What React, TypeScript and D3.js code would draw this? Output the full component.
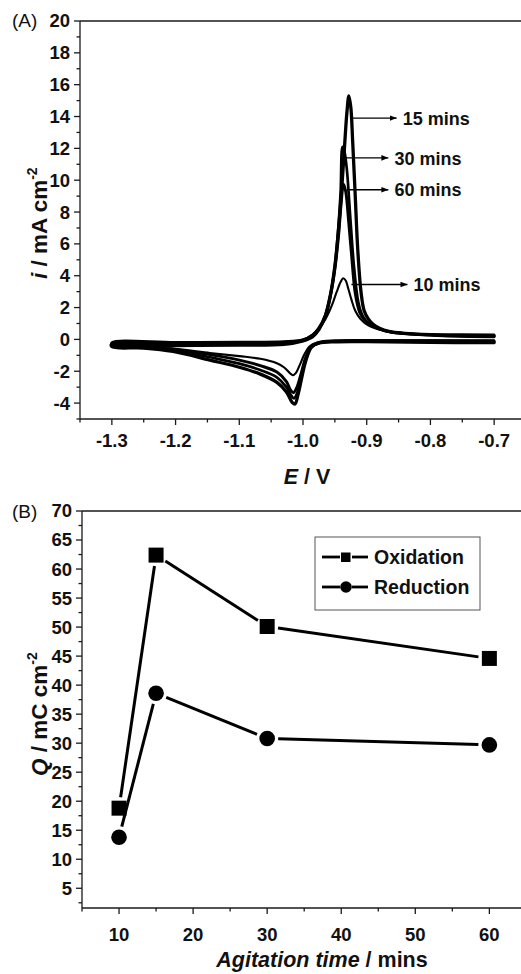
import React from 'react';
import * as d3 from 'd3';

type P = [number, number];

// ---------- Panel A data (E / V, i / mA cm-2), scan order ----------
const cvCurveNames = ['15 mins', '30 mins', '60 mins', '10 mins'];
const cv15: P[] = [
  [-0.70, -0.12], [-0.80, -0.1], [-0.90, -0.08], [-0.95, -0.1], [-0.975, -0.2], [-0.987, -0.5], [-0.996, -1.4],
  [-1.003, -2.6], [-1.008, -3.5], [-1.0125, -4.06], [-1.017, -3.95], [-1.026, -3.3], [-1.041, -2.7], [-1.067, -2.18],
  [-1.10, -1.75], [-1.146, -1.3], [-1.204, -0.75], [-1.25, -0.54], [-1.30, -0.46],
  [-1.30, -0.28], [-1.20, -0.26], [-1.10, -0.24], [-1.03, -0.2], [-1.00, -0.05], [-0.985, 0.25], [-0.975, 0.7],
  [-0.965, 1.5], [-0.957, 2.8], [-0.95, 4.6], [-0.944, 7.0], [-0.939, 9.6], [-0.935, 12.0], [-0.931, 14.3],
  [-0.928, 15.3], [-0.925, 14.6], [-0.922, 12.4], [-0.918, 9.0], [-0.914, 5.6], [-0.909, 3.0], [-0.904, 1.8],
  [-0.897, 1.25], [-0.89, 0.95], [-0.88, 0.7], [-0.865, 0.5], [-0.84, 0.38], [-0.80, 0.3], [-0.75, 0.26], [-0.70, 0.24],
];
const cv30: P[] = [
  [-0.70, -0.18], [-0.80, -0.15], [-0.90, -0.12], [-0.95, -0.14], [-0.975, -0.22], [-0.987, -0.5], [-0.996, -1.3],
  [-1.003, -2.4], [-1.009, -3.35], [-1.014, -3.7], [-1.019, -3.5], [-1.026, -3.0], [-1.041, -2.38], [-1.067, -1.92],
  [-1.10, -1.52], [-1.146, -1.12], [-1.204, -0.68], [-1.25, -0.5], [-1.30, -0.43],
  [-1.30, -0.36], [-1.20, -0.34], [-1.10, -0.31], [-1.03, -0.26], [-1.00, -0.08], [-0.985, 0.2], [-0.975, 0.65],
  [-0.965, 1.5], [-0.957, 2.8], [-0.95, 4.6], [-0.945, 6.8], [-0.941, 9.2], [-0.938, 12.1], [-0.935, 11.8],
  [-0.931, 10.6], [-0.926, 7.8], [-0.92, 4.6], [-0.913, 2.3], [-0.906, 1.45], [-0.897, 1.0], [-0.885, 0.75],
  [-0.87, 0.52], [-0.845, 0.38], [-0.80, 0.3], [-0.75, 0.22], [-0.70, 0.2],
];
const cv60: P[] = [
  [-0.70, -0.22], [-0.80, -0.2], [-0.90, -0.15], [-0.95, -0.16], [-0.975, -0.24], [-0.987, -0.45], [-0.996, -1.15],
  [-1.003, -2.15], [-1.010, -3.05], [-1.015, -3.35], [-1.020, -3.15], [-1.026, -2.65], [-1.041, -2.05], [-1.067, -1.65],
  [-1.10, -1.3], [-1.146, -0.96], [-1.204, -0.62], [-1.25, -0.47], [-1.30, -0.41],
  [-1.30, -0.42], [-1.20, -0.4], [-1.10, -0.37], [-1.03, -0.32], [-1.00, -0.1], [-0.985, 0.15], [-0.975, 0.6],
  [-0.965, 1.4], [-0.957, 2.7], [-0.95, 4.4], [-0.944, 6.6], [-0.94, 8.6], [-0.9365, 9.75], [-0.933, 9.3],
  [-0.929, 7.7], [-0.924, 5.4], [-0.918, 2.9], [-0.911, 1.7], [-0.903, 1.2], [-0.893, 0.9], [-0.88, 0.65],
  [-0.86, 0.45], [-0.83, 0.33], [-0.78, 0.22], [-0.70, 0.16],
];
const cv10: P[] = [
  [-0.70, -0.05], [-0.80, -0.05], [-0.90, -0.06], [-0.95, -0.1], [-0.978, -0.2], [-0.99, -0.45], [-0.998, -0.95],
  [-1.005, -1.6], [-1.011, -2.1], [-1.016, -2.25], [-1.021, -2.1], [-1.030, -1.75], [-1.041, -1.5], [-1.067, -1.22],
  [-1.10, -1.05], [-1.146, -0.85], [-1.204, -0.58], [-1.25, -0.46], [-1.30, -0.4],
  [-1.30, -0.18], [-1.20, -0.17], [-1.10, -0.15], [-1.03, -0.12], [-1.00, 0.0], [-0.985, 0.3], [-0.975, 0.7],
  [-0.965, 1.25], [-0.955, 2.1], [-0.947, 3.0], [-0.941, 3.6], [-0.937, 3.84], [-0.933, 3.7], [-0.929, 3.2],
  [-0.924, 2.5], [-0.918, 1.8], [-0.91, 1.3], [-0.9, 0.95], [-0.89, 0.75], [-0.875, 0.58], [-0.85, 0.42],
  [-0.8, 0.32], [-0.75, 0.3], [-0.7, 0.3],
];
const cvCurves = [cv15, cv30, cv60, cv10];
// annotation arrows: start E, i level, end E
const cvArrowStartE = [-0.924, -0.933, -0.931, -0.924];
const cvArrowLevel = [13.9, 11.4, 9.4, 3.45];
const cvArrowEndE = [-0.853, -0.866, -0.866, -0.836];

const topXTicks = [-1.3, -1.2, -1.1, -1.0, -0.9, -0.8, -0.7];
const topXMinor = [-1.35, -1.25, -1.15, -1.05, -0.95, -0.85, -0.75, -0.65];
const topYTicks = [-4, -2, 0, 2, 4, 6, 8, 10, 12, 14, 16, 18, 20];
const topYMinor = [-5, -3, -1, 1, 3, 5, 7, 9, 11, 13, 15, 17, 19];

// ---------- Panel B data ----------
const agitationTime = [10, 15, 30, 60];
const oxidationQ = [18.8, 62.4, 50.1, 44.6];
const reductionQ = [13.8, 38.6, 30.8, 29.7];
const seriesNames = ['Oxidation', 'Reduction'];

const botXTicks = [10, 20, 30, 40, 50, 60];
const botXMinor = [5, 15, 25, 35, 45, 55, 65];
const botYTicks = [5, 10, 15, 20, 25, 30, 35, 40, 45, 50, 55, 60, 65, 70];
const botYMinor = [2.5, 7.5, 12.5, 17.5, 22.5, 27.5, 32.5, 37.5, 42.5, 47.5, 52.5, 57.5, 62.5, 67.5];

const FONT = "'Liberation Sans', Arial, Helvetica, sans-serif";
const AX = '#1a1a1a';

export default function App() {
  const xA = d3.scaleLinear().domain([-1.35, -0.65]).range([80, 526]);
  const yA = d3.scaleLinear().domain([-5, 20]).range([419, 21]);
  const xB = d3.scaleLinear().domain([5, 65]).range([82, 526.4]);
  const yB = d3.scaleLinear().domain([1.6, 70]).range([908, 511]);

  const line = d3
    .line<P>()
    .x((d) => xA(d[0]))
    .y((d) => yA(d[1]))
    .curve(d3.curveCatmullRom.alpha(0.5));
  const widths = [3.3, 2.7, 2.9, 2.1];

  const gapSegs = (vals: number[]) => {
    const pts = agitationTime.map((t, i) => [xB(t), yB(vals[i])]);
    const segs: number[][] = [];
    for (let i = 0; i < pts.length - 1; i++) {
      const [x1, y1] = pts[i];
      const [x2, y2] = pts[i + 1];
      const L = Math.hypot(x2 - x1, y2 - y1);
      const ux = (x2 - x1) / L, uy = (y2 - y1) / L;
      const g = 11;
      segs.push([x1 + ux * g, y1 + uy * g, x2 - ux * g, y2 - uy * g]);
    }
    return segs;
  };

  const fmtA = (v: number) => v.toFixed(1);

  return (
    <svg
      width={521}
      height={974}
      style={{ position: 'absolute', left: 0, top: 0, background: '#fff' }}
      fontFamily={FONT}
    >
      <defs>
        <marker id="arr" viewBox="0 0 10 10" refX="10" refY="5" markerWidth="5" markerHeight="5" orient="auto">
          <path d="M0,1 L10,5 L0,9 z" fill="#000" />
        </marker>
      </defs>
      <rect x={0} y={0} width={521} height={974} fill="#fff" />

      {/* ================= Panel A ================= */}
      <text x={12} y={27} fontSize={19} fill="#111">(A)</text>
      <g stroke={AX} strokeWidth={1.3}>
        <line x1={80} y1={21} x2={80} y2={419} />
        <line x1={80} y1={419} x2={521} y2={419} />
        <line x1={80} y1={21} x2={521} y2={21} />
        {topYTicks.map((v) => <line key={'ay' + v} x1={74} x2={80} y1={yA(v)} y2={yA(v)} />)}
        {topYMinor.map((v) => <line key={'aym' + v} x1={76.5} x2={80} y1={yA(v)} y2={yA(v)} />)}
        {topXTicks.map((v) => <line key={'ax' + v} x1={xA(v)} x2={xA(v)} y1={419} y2={425} />)}
        {topXMinor.map((v) => <line key={'axm' + v} x1={xA(v)} x2={xA(v)} y1={419} y2={422.5} />)}
      </g>
      <g fontSize={18.5} fontWeight="bold" fill="#111">
        {topYTicks.map((v) => (
          <text key={'ayl' + v} x={70} y={yA(v)} dy="0.35em" textAnchor="end">{String(v)}</text>
        ))}
        {topXTicks.map((v) => (
          <text key={'axl' + v} x={xA(v)} y={447} textAnchor="middle">{fmtA(v)}</text>
        ))}
      </g>
      <text x={307} y={484} fontSize={21.5} fontWeight="bold" textAnchor="middle" fill="#111">
        <tspan fontStyle="italic">E</tspan> / V
      </text>
      <text
        transform={`translate(47,${yA(7.3)}) rotate(-90)`}
        fontSize={22.5}
        fontWeight="bold"
        textAnchor="middle"
        fill="#111"
      >
        <tspan fontStyle="italic">i</tspan> / mA cm<tspan dy={-10} fontSize={14}>-2</tspan>
      </text>

      <g fill="none" stroke="#000" strokeLinejoin="round" strokeLinecap="round">
        {cvCurves.map((c, i) => (
          <path key={'cv' + i} d={line(c) || ''} strokeWidth={widths[i]} />
        ))}
      </g>
      {cvCurveNames.map((name, i) => (
        <g key={'ann' + i}>
          <line
            x1={xA(cvArrowStartE[i])}
            y1={yA(cvArrowLevel[i])}
            x2={xA(cvArrowEndE[i])}
            y2={yA(cvArrowLevel[i])}
            stroke="#000"
            strokeWidth={1.4}
            markerEnd="url(#arr)"
          />
          <text
            x={xA(cvArrowEndE[i]) + 6}
            y={yA(cvArrowLevel[i])}
            dy="0.37em"
            fontSize={18}
            fontWeight="bold"
            fill="#111"
          >
            {name}
          </text>
        </g>
      ))}

      {/* ================= Panel B ================= */}
      <text x={12} y={518} fontSize={19} fill="#111">(B)</text>
      <g stroke={AX} strokeWidth={1.3}>
        <line x1={82} y1={511} x2={82} y2={908} />
        <line x1={82} y1={908} x2={521} y2={908} />
        <line x1={82} y1={511} x2={521} y2={511} />
        {botYTicks.map((v) => <line key={'by' + v} x1={76} x2={82} y1={yB(v)} y2={yB(v)} />)}
        {botYMinor.map((v) => <line key={'bym' + v} x1={78.5} x2={82} y1={yB(v)} y2={yB(v)} />)}
        {botXTicks.map((v) => <line key={'bx' + v} x1={xB(v)} x2={xB(v)} y1={908} y2={914} />)}
        {botXMinor.map((v) => <line key={'bxm' + v} x1={xB(v)} x2={xB(v)} y1={908} y2={911.5} />)}
      </g>
      <g fontSize={18.5} fontWeight="bold" fill="#111">
        {botYTicks.map((v) => (
          <text key={'byl' + v} x={72} y={yB(v)} dy="0.35em" textAnchor="end">{String(v)}</text>
        ))}
        {botXTicks.map((v) => (
          <text key={'bxl' + v} x={xB(v)} y={941} textAnchor="middle">{String(v)}</text>
        ))}
      </g>
      <text x={322} y={967} fontSize={21.5} fontWeight="bold" textAnchor="middle" fill="#111">
        <tspan fontStyle="italic">Agitation time</tspan> / mins
      </text>
      <text
        transform={`translate(47,${yB(35)}) rotate(-90)`}
        fontSize={22.5}
        fontWeight="bold"
        textAnchor="middle"
        fill="#111"
      >
        <tspan fontStyle="italic">Q</tspan> / mC cm<tspan dy={-10} fontSize={14}>-2</tspan>
      </text>

      <g stroke="#000" strokeWidth={3} strokeLinecap="butt">
        {gapSegs(oxidationQ).map((s, i) => <line key={'os' + i} x1={s[0]} y1={s[1]} x2={s[2]} y2={s[3]} />)}
        {gapSegs(reductionQ).map((s, i) => <line key={'rs' + i} x1={s[0]} y1={s[1]} x2={s[2]} y2={s[3]} />)}
      </g>
      {agitationTime.map((t, i) => (
        <rect key={'sq' + i} x={xB(t) - 7.5} y={yB(oxidationQ[i]) - 7.5} width={15} height={15} fill="#000" />
      ))}
      {agitationTime.map((t, i) => (
        <circle key={'ci' + i} cx={xB(t)} cy={yB(reductionQ[i])} r={7.8} fill="#000" />
      ))}

      {/* legend */}
      <rect x={315} y={537} width={165} height={73} fill="#fff" stroke="#555" strokeWidth={1} />
      {seriesNames.map((name, i) => {
        const ly = 557 + i * 30;
        return (
          <g key={'lg' + i}>
            <line x1={322} y1={ly} x2={340} y2={ly} stroke="#000" strokeWidth={2.8} />
            <line x1={352} y1={ly} x2={368} y2={ly} stroke="#000" strokeWidth={2.8} />
            {i === 0 ? (
              <rect x={341} y={ly - 4.5} width={9.5} height={9.5} fill="#000" />
            ) : (
              <circle cx={346} cy={ly} r={5.8} fill="#000" />
            )}
            <text x={374} y={ly} dy="0.36em" fontSize={19.5} fontWeight="bold" fill="#111">{name}</text>
          </g>
        );
      })}
    </svg>
  );
}
